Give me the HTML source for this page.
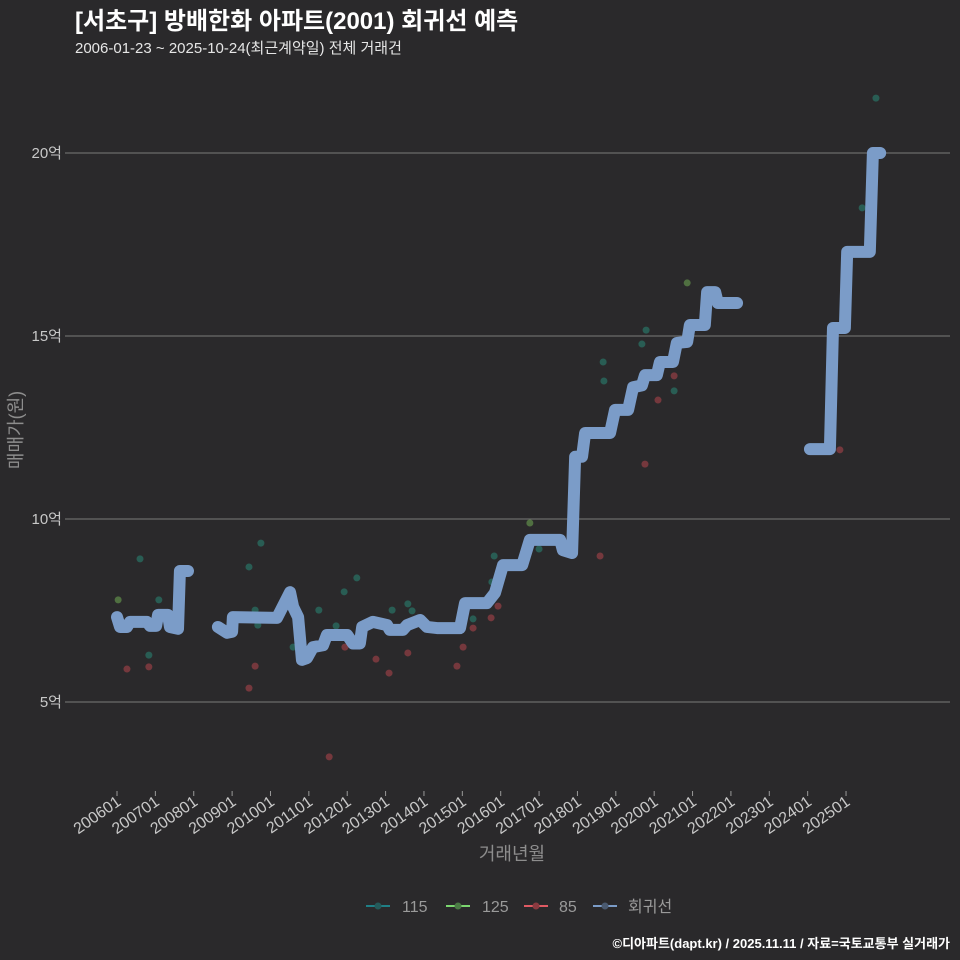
<!DOCTYPE html>
<html><head><meta charset="utf-8"><style>
html,body{margin:0;padding:0;background:#2a292b;}
body{width:960px;height:960px;overflow:hidden;font-family:"Liberation Sans","Noto Sans CJK KR",sans-serif;}
svg{display:block;}
</style></head><body>
<svg id="chart" width="960" height="960" xmlns="http://www.w3.org/2000/svg" font-family="Liberation Sans, Noto Sans CJK KR, sans-serif">
<rect width="960" height="960" fill="#2a292b"/>
<text x="75" y="29" fill="#ffffff" font-size="24" font-weight="bold">[서초구] 방배한화 아파트(2001) 회귀선 예측</text>
<text x="75" y="53" fill="#e6e6e6" font-size="15">2006-01-23 ~ 2025-10-24(최근계약일) 전체 거래건</text>
<g id="grid"></g>
<g id="yticks"></g>
<g id="xticks"></g>
<text transform="translate(22,430) rotate(-90)" text-anchor="middle" fill="#8d8d8d" font-size="18">매매가(원)</text>
<text x="512" y="860" text-anchor="middle" fill="#8d8d8d" font-size="18">거래년월</text>
<g id="points"></g>
<g id="lines"></g>
<g font-size="16" fill="#9a9a9a">
 <g><line x1="366" y1="906" x2="390" y2="906" stroke="#1f7f86" stroke-width="2"/><circle cx="378" cy="906" r="3.5" fill="#245a5a"/><text x="402" y="912">115</text></g>
 <g><line x1="446" y1="906" x2="470" y2="906" stroke="#7bd66f" stroke-width="2"/><circle cx="458" cy="906" r="3.5" fill="#4a7a44"/><text x="482" y="912">125</text></g>
 <g><line x1="524" y1="906" x2="548" y2="906" stroke="#e05a63" stroke-width="2"/><circle cx="536" cy="906" r="3.5" fill="#8a3a40"/><text x="559" y="912">85</text></g>
 <g><line x1="593" y1="906" x2="617" y2="906" stroke="#7b9cc8" stroke-width="2"/><circle cx="605" cy="906" r="3.5" fill="#4a5a70"/><text x="628" y="912">회귀선</text></g>
</g>
<text x="950" y="948" text-anchor="end" fill="#ffffff" font-size="13" font-weight="bold">©디아파트(dapt.kr) / 2025.11.11 / 자료=국토교통부 실거래가</text>
</svg>
<script>
const yTickValues=[5,10,15,20];
const yTickLabels=["5억","10억","15억","20억"];
const xTickYears=[2006,2007,2008,2009,2010,2011,2012,2013,2014,2015,2016,2017,2018,2019,2020,2021,2022,2023,2024,2025];
const xTickLabels=["200601","200701","200801","200901","201001","201101","201201","201301","201401","201501","201601","201701","201801","201901","202001","202101","202201","202301","202401","202501"];
const seg1T=[2006.00,2006.08,2006.26,2006.34,2006.78,2006.86,2007.02,2007.07,2007.33,2007.38,2007.59,2007.64,2007.85];
const seg1V=[7.32,7.05,7.05,7.19,7.19,7.08,7.08,7.38,7.38,7.05,7.00,8.58,8.58];
const seg2T=[2008.63,2008.87,2009.00,2009.02,2010.17,2010.51,2010.59,2010.72,2010.82,2010.95,2011.11,2011.37,2011.47,2012.00,2012.15,2012.33,2012.39,2012.67,2013.04,2013.11,2013.45,2013.56,2013.90,2014.08,2014.34,2014.94,2015.07,2015.64,2015.85,2016.06,2016.56,2016.76,2017.55,2017.62,2017.86,2017.94,2018.12,2018.20,2018.85,2018.98,2019.32,2019.45,2019.68,2019.76,2020.07,2020.15,2020.49,2020.59,2020.86,2020.93,2021.32,2021.38,2021.59,2021.66,2022.16];
const seg2V=[7.05,6.89,6.92,7.32,7.30,8.00,7.60,7.32,6.15,6.20,6.50,6.55,6.83,6.83,6.60,6.60,7.05,7.19,7.10,6.97,6.97,7.10,7.24,7.05,7.02,7.02,7.70,7.70,7.98,8.74,8.74,9.43,9.43,9.15,9.07,11.70,11.70,12.35,12.35,12.98,12.98,13.60,13.65,13.93,13.93,14.29,14.29,14.81,14.84,15.30,15.30,16.20,16.20,15.90,15.90];
const seg3T=[2024.06,2024.58,2024.66,2024.97,2025.03,2025.62,2025.70,2025.89];
const seg3V=[11.91,11.91,15.22,15.22,17.30,17.30,20.00,20.00];
const p115T=[2006.60,2006.83,2007.09,2009.44,2009.60,2009.75,2009.67,2010.59,2011.26,2011.71,2011.92,2012.25,2013.17,2013.58,2013.69,2015.28,2015.77,2015.83,2017.00,2018.67,2018.69,2019.68,2019.79,2020.52,2025.42,2025.78];
const p115V=[8.91,6.28,7.79,8.69,7.51,9.34,7.10,6.50,7.51,7.08,8.01,8.39,7.51,7.68,7.49,7.27,8.28,8.99,9.18,14.29,13.77,14.78,15.16,13.50,18.50,21.50];
const p125T=[2006.03,2016.76,2020.86];
const p125V=[7.79,9.89,16.45];
const p85T=[2006.26,2006.83,2009.44,2009.60,2011.53,2011.94,2012.75,2013.09,2013.58,2014.86,2015.02,2015.28,2015.75,2015.93,2018.59,2019.76,2020.10,2020.52,2024.84];
const p85V=[5.90,5.96,5.38,5.98,3.50,6.50,6.17,5.79,6.34,5.98,6.50,7.02,7.30,7.62,8.99,11.50,13.25,13.91,11.89];

const NS="http://www.w3.org/2000/svg";
function xs(t){return 117+(t-2006)*38.37;}
function ys(v){return 702-(v-5)*36.6;}
const grid=document.getElementById('grid'),yt=document.getElementById('yticks'),xt=document.getElementById('xticks');
yTickValues.forEach((v,i)=>{
 const l=document.createElementNS(NS,'line');
 l.setAttribute('x1',65);l.setAttribute('x2',950);l.setAttribute('y1',ys(v));l.setAttribute('y2',ys(v));
 l.setAttribute('stroke','#7a7a7a');l.setAttribute('stroke-width','1');
 
 
 grid.appendChild(l);
 const t=document.createElementNS(NS,'text');
 t.setAttribute('x',62);t.setAttribute('y',ys(v)+5);t.setAttribute('text-anchor','end');
 t.setAttribute('fill','#c8c8c8');t.setAttribute('font-size','15');t.textContent=yTickLabels[i];
 
 
 yt.appendChild(t);
});
xTickYears.forEach((yr,i)=>{
 const x=xs(yr);
 const l=document.createElementNS(NS,'line');
 l.setAttribute('x1',x);l.setAttribute('x2',x);l.setAttribute('y1',791);l.setAttribute('y2',796);
 l.setAttribute('stroke','#999');
 
 
 xt.appendChild(l);
 const t=document.createElementNS(NS,'text');
 t.setAttribute('transform','translate('+(x+5)+',804) rotate(-35)');
 t.setAttribute('text-anchor','end');t.setAttribute('fill','#c8c8c8');t.setAttribute('font-size','16');
 t.textContent=xTickLabels[i];
 
 
 xt.appendChild(t);
});
const pts=document.getElementById('points');
function drawPts(T,V,fill,name){
 T.forEach((t,i)=>{
  const c=document.createElementNS(NS,'circle');
  c.setAttribute('cx',xs(t));c.setAttribute('cy',ys(V[i]));c.setAttribute('r',3.5);
  c.setAttribute('fill',fill);c.setAttribute('fill-opacity','0.6');
  
  
  pts.appendChild(c);
 });
}
drawPts(p115T,p115V,'#2a8070','point-115');
drawPts(p125T,p125V,'#6aa050','point-125');
drawPts(p85T,p85V,'#a8424a','point-85');
const lg=document.getElementById('lines');
function drawLine(T,V){
 const p=document.createElementNS(NS,'polyline');
 p.setAttribute('points',T.map((t,i)=>xs(t)+','+ys(V[i])).join(' '));
 p.setAttribute('fill','none');p.setAttribute('stroke','#7b9cc8');p.setAttribute('stroke-width','12');
 p.setAttribute('stroke-linejoin','round');p.setAttribute('stroke-linecap','round');
 
 
 lg.appendChild(p);
}
drawLine(seg1T,seg1V);drawLine(seg2T,seg2V);drawLine(seg3T,seg3V);
</script>
</body></html>
